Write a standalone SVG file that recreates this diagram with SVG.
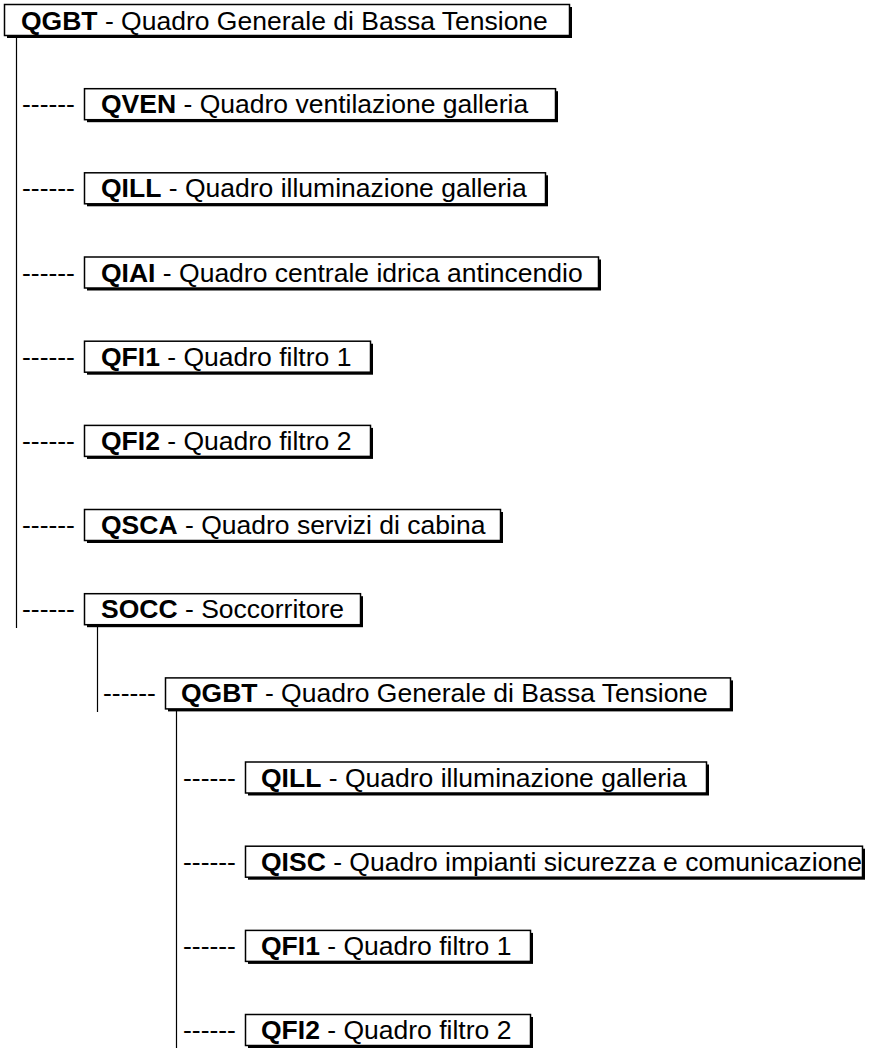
<svg xmlns="http://www.w3.org/2000/svg" width="873" height="1048" viewBox="0 0 873 1048">
<style>
.sh{fill:#000}
.bx{fill:#fff;stroke:#000;stroke-width:1.5}
.t{font-family:"Liberation Sans",Arial,sans-serif;font-size:26.5px;fill:#000}
.b{font-weight:bold}
.ln{stroke:#000;stroke-width:1.2;fill:none}
</style>
<rect width="873" height="1048" fill="#fff"/>
<g id="connectors">
<line class="ln" x1="16.5" y1="37" x2="16.5" y2="628"/>
<line class="ln" x1="97.5" y1="625" x2="97.5" y2="712"/>
<line class="ln" x1="176.5" y1="710" x2="176.5" y2="1048"/>
<text class="t" x="22" y="113.2">------</text>
<text class="t" x="22" y="197.3">------</text>
<text class="t" x="22" y="281.5">------</text>
<text class="t" x="22" y="365.7">------</text>
<text class="t" x="22" y="449.9">------</text>
<text class="t" x="22" y="534">------</text>
<text class="t" x="22" y="618.2">------</text>
<text class="t" x="103" y="702.4">------</text>
<text class="t" x="183" y="786.5">------</text>
<text class="t" x="183" y="870.7">------</text>
<text class="t" x="183" y="954.9">------</text>
<text class="t" x="183" y="1039">------</text>
</g>
<g id="n0"><rect class="sh" x="7" y="7" width="565" height="31"/><rect class="bx" x="4.5" y="4.5" width="565" height="31"/><text class="t" x="21" y="29.5"><tspan class="b">QGBT</tspan> - Quadro Generale di Bassa Tensione</text></g>
<g id="n1"><rect class="sh" x="87" y="91.2" width="471" height="31"/><rect class="bx" x="84.5" y="88.7" width="471" height="31"/><text class="t" x="101" y="113.2"><tspan class="b">QVEN</tspan> - Quadro ventilazione galleria</text></g>
<g id="n2"><rect class="sh" x="87" y="175.3" width="461" height="31"/><rect class="bx" x="84.5" y="172.8" width="461" height="31"/><text class="t" x="101" y="197.3"><tspan class="b">QILL</tspan> - Quadro illuminazione galleria</text></g>
<g id="n3"><rect class="sh" x="87" y="259.5" width="514" height="31"/><rect class="bx" x="84.5" y="257" width="514" height="31"/><text class="t" x="101" y="281.5"><tspan class="b">QIAI</tspan> - Quadro centrale idrica antincendio</text></g>
<g id="n4"><rect class="sh" x="87" y="343.7" width="286" height="31"/><rect class="bx" x="84.5" y="341.2" width="286" height="31"/><text class="t" x="101" y="365.7"><tspan class="b">QFI1</tspan> - Quadro filtro 1</text></g>
<g id="n5"><rect class="sh" x="87" y="427.9" width="286" height="31"/><rect class="bx" x="84.5" y="425.4" width="286" height="31"/><text class="t" x="101" y="449.9"><tspan class="b">QFI2</tspan> - Quadro filtro 2</text></g>
<g id="n6"><rect class="sh" x="87" y="512" width="416" height="31"/><rect class="bx" x="84.5" y="509.5" width="416" height="31"/><text class="t" x="101" y="534"><tspan class="b">QSCA</tspan> - Quadro servizi di cabina</text></g>
<g id="n7"><rect class="sh" x="87" y="596.2" width="276" height="31"/><rect class="bx" x="84.5" y="593.7" width="276" height="31"/><text class="t" x="101" y="618.2"><tspan class="b">SOCC</tspan> - Soccorritore</text></g>
<g id="n8"><rect class="sh" x="168" y="680.4" width="565" height="31"/><rect class="bx" x="165.5" y="677.9" width="565" height="31"/><text class="t" x="181" y="702.4"><tspan class="b">QGBT</tspan> - Quadro Generale di Bassa Tensione</text></g>
<g id="n9"><rect class="sh" x="248" y="764.5" width="461" height="31"/><rect class="bx" x="245.5" y="762" width="461" height="31"/><text class="t" x="261" y="786.5"><tspan class="b">QILL</tspan> - Quadro illuminazione galleria</text></g>
<g id="n10"><rect class="sh" x="248" y="848.7" width="617" height="31"/><rect class="bx" x="245.5" y="846.2" width="617" height="31"/><text class="t" x="261" y="870.7"><tspan class="b">QISC</tspan> - Quadro impianti sicurezza e comunicazione</text></g>
<g id="n11"><rect class="sh" x="248" y="932.9" width="285" height="31"/><rect class="bx" x="245.5" y="930.4" width="285" height="31"/><text class="t" x="261" y="954.9"><tspan class="b">QFI1</tspan> - Quadro filtro 1</text></g>
<g id="n12"><rect class="sh" x="248" y="1017" width="285" height="31"/><rect class="bx" x="245.5" y="1014.5" width="285" height="31"/><text class="t" x="261" y="1039"><tspan class="b">QFI2</tspan> - Quadro filtro 2</text></g>
</svg>
